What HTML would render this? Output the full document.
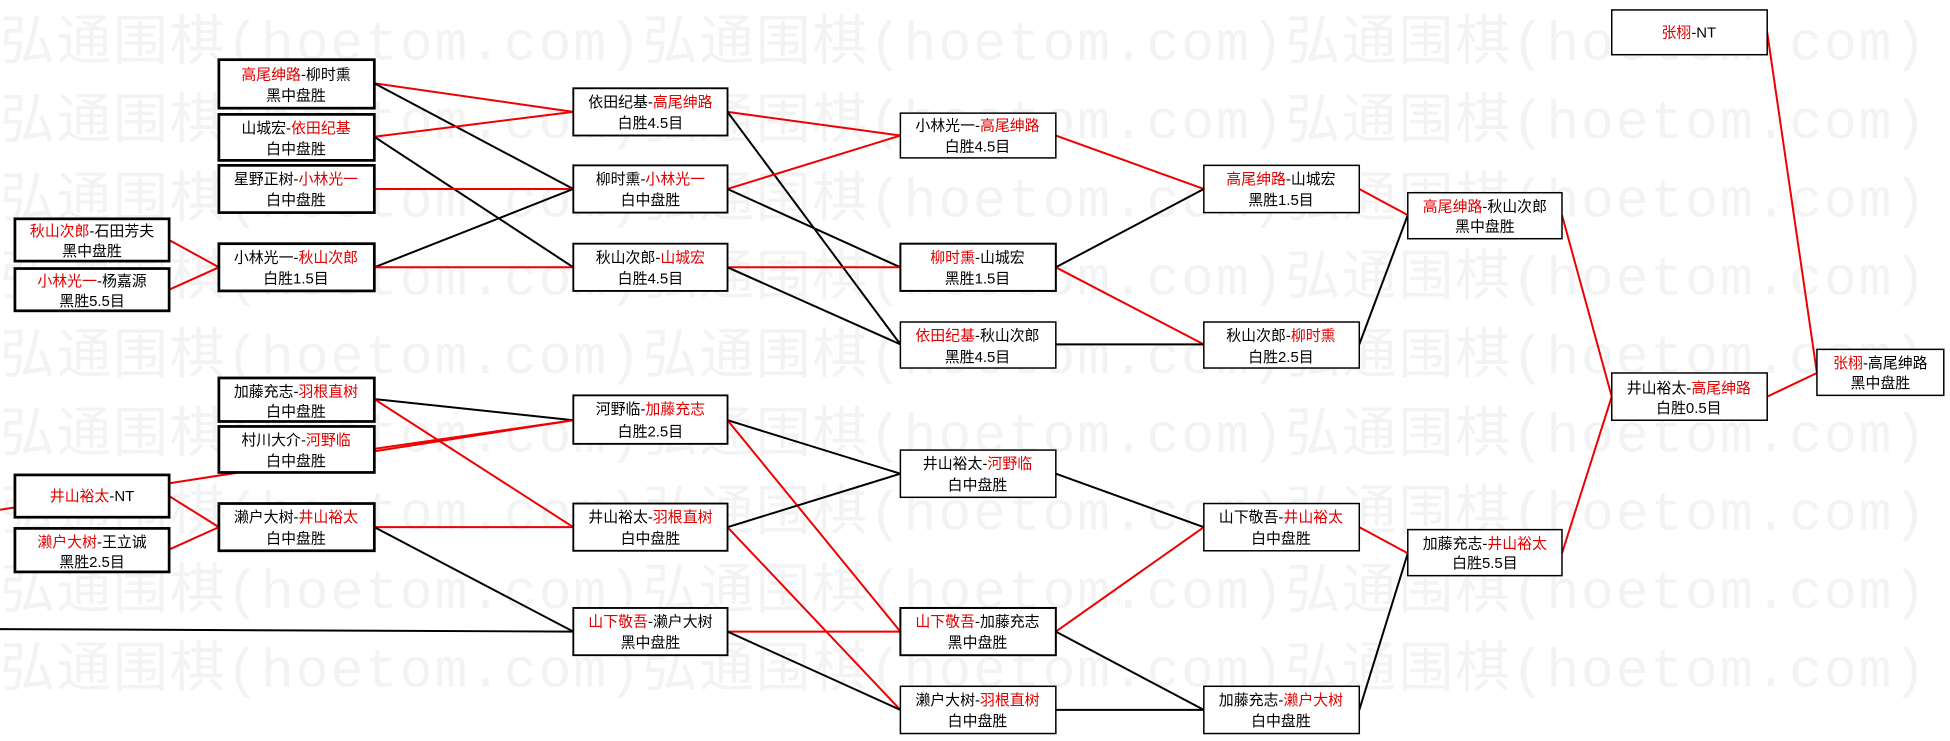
<!DOCTYPE html>
<html><head><meta charset="utf-8"><style>
html,body{margin:0;padding:0;background:#fff;}
svg{display:block;}
text{font-family:"Liberation Sans","Noto Sans CJK SC",sans-serif;font-size:12px;}
.w{font-size:44px;fill:#f3f3f3;font-family:"Liberation Mono","Noto Sans CJK SC",monospace;letter-spacing:1.5px;}
.r{fill:#e00000;}
</style></head><body>
<svg width="1950" height="741" viewBox="0 0 1568 596" preserveAspectRatio="none" xmlns="http://www.w3.org/2000/svg">
<g>
<text class="w" x="0" y="48">弘通围棋(hoetom.com)弘通围棋(hoetom.com)弘通围棋(hoetom.com)</text>
<text class="w" x="0" y="111">弘通围棋(hoetom.com)弘通围棋(hoetom.com)弘通围棋(hoetom.com)</text>
<text class="w" x="0" y="174">弘通围棋(hoetom.com)弘通围棋(hoetom.com)弘通围棋(hoetom.com)</text>
<text class="w" x="0" y="237">弘通围棋(hoetom.com)弘通围棋(hoetom.com)弘通围棋(hoetom.com)</text>
<text class="w" x="0" y="300">弘通围棋(hoetom.com)弘通围棋(hoetom.com)弘通围棋(hoetom.com)</text>
<text class="w" x="0" y="363">弘通围棋(hoetom.com)弘通围棋(hoetom.com)弘通围棋(hoetom.com)</text>
<text class="w" x="0" y="426">弘通围棋(hoetom.com)弘通围棋(hoetom.com)弘通围棋(hoetom.com)</text>
<text class="w" x="0" y="489">弘通围棋(hoetom.com)弘通围棋(hoetom.com)弘通围棋(hoetom.com)</text>
<text class="w" x="0" y="552">弘通围棋(hoetom.com)弘通围棋(hoetom.com)弘通围棋(hoetom.com)</text>
</g>
<g stroke-width="1.6" fill="none">
<line x1="136" y1="193" x2="176" y2="215" stroke="#e00"/>
<line x1="136" y1="233" x2="176" y2="215" stroke="#e00"/>
<line x1="136" y1="399" x2="176" y2="424" stroke="#e00"/>
<line x1="136" y1="442" x2="176" y2="424" stroke="#e00"/>
<line x1="0" y1="410" x2="461" y2="338" stroke="#e00"/>
<line x1="0" y1="506" x2="461" y2="508" stroke="#000"/>
<line x1="301" y1="67" x2="461" y2="90" stroke="#e00"/>
<line x1="301" y1="67" x2="461" y2="152" stroke="#000"/>
<line x1="301" y1="110" x2="461" y2="90" stroke="#e00"/>
<line x1="301" y1="110" x2="461" y2="215" stroke="#000"/>
<line x1="301" y1="152" x2="461" y2="152" stroke="#e00"/>
<line x1="301" y1="215" x2="461" y2="152" stroke="#000"/>
<line x1="301" y1="215" x2="461" y2="215" stroke="#e00"/>
<line x1="301" y1="321" x2="461" y2="338" stroke="#000"/>
<line x1="301" y1="321" x2="461" y2="424" stroke="#e00"/>
<line x1="301" y1="361" x2="461" y2="338" stroke="#e00"/>
<line x1="301" y1="424" x2="461" y2="424" stroke="#e00"/>
<line x1="301" y1="424" x2="461" y2="508" stroke="#000"/>
<line x1="585" y1="90" x2="724" y2="109" stroke="#e00"/>
<line x1="585" y1="90" x2="724" y2="277" stroke="#000"/>
<line x1="585" y1="152" x2="724" y2="109" stroke="#e00"/>
<line x1="585" y1="152" x2="724" y2="215" stroke="#000"/>
<line x1="585" y1="215" x2="724" y2="215" stroke="#e00"/>
<line x1="585" y1="215" x2="724" y2="277" stroke="#000"/>
<line x1="585" y1="338" x2="724" y2="381" stroke="#000"/>
<line x1="585" y1="338" x2="724" y2="508" stroke="#e00"/>
<line x1="585" y1="424" x2="724" y2="381" stroke="#000"/>
<line x1="585" y1="424" x2="724" y2="571" stroke="#e00"/>
<line x1="585" y1="508" x2="724" y2="508" stroke="#e00"/>
<line x1="585" y1="508" x2="724" y2="571" stroke="#000"/>
<line x1="849" y1="109" x2="968" y2="152" stroke="#e00"/>
<line x1="849" y1="215" x2="968" y2="152" stroke="#000"/>
<line x1="849" y1="215" x2="968" y2="277" stroke="#e00"/>
<line x1="849" y1="277" x2="968" y2="277" stroke="#000"/>
<line x1="849" y1="381" x2="968" y2="424" stroke="#000"/>
<line x1="849" y1="508" x2="968" y2="424" stroke="#e00"/>
<line x1="849" y1="508" x2="968" y2="571" stroke="#000"/>
<line x1="849" y1="571" x2="968" y2="571" stroke="#000"/>
<line x1="1093" y1="152" x2="1132" y2="173" stroke="#e00"/>
<line x1="1093" y1="277" x2="1132" y2="173" stroke="#000"/>
<line x1="1093" y1="424" x2="1132" y2="445" stroke="#e00"/>
<line x1="1093" y1="571" x2="1132" y2="445" stroke="#000"/>
<line x1="1256" y1="173" x2="1296" y2="319" stroke="#e00"/>
<line x1="1256" y1="445" x2="1296" y2="319" stroke="#e00"/>
<line x1="1421" y1="26" x2="1461" y2="300" stroke="#e00"/>
<line x1="1421" y1="319" x2="1461" y2="300" stroke="#e00"/>
</g>
<g fill="#fff" stroke="#000">
<g stroke-width="2.2">
<rect x="12" y="176" width="124" height="34"/><rect x="12" y="216" width="124" height="34"/>
<rect x="12" y="382" width="124" height="34"/><rect x="12" y="425" width="124" height="35"/>
<rect x="176" y="48" width="125" height="39"/><rect x="176" y="92" width="125" height="37"/>
<rect x="176" y="133" width="125" height="38"/><rect x="176" y="196" width="125" height="38"/>
<rect x="176" y="304" width="125" height="35"/><rect x="176" y="343" width="125" height="37"/>
<rect x="176" y="405" width="125" height="38"/>
</g>
<g stroke-width="1.5">
<rect x="461" y="71" width="124" height="38"/><rect x="461" y="133" width="124" height="38"/>
<rect x="461" y="196" width="124" height="38"/><rect x="461" y="318" width="124" height="39"/>
<rect x="461" y="405" width="124" height="38"/><rect x="461" y="489" width="124" height="38"/>
</g>
<g stroke-width="1.2">
<rect x="724" y="91" width="125" height="36"/><rect x="724" y="196" width="125" height="38" stroke-width="1.6"/>
<rect x="724" y="259" width="125" height="37"/><rect x="724" y="362" width="125" height="38"/>
<rect x="724" y="489" width="125" height="38" stroke-width="1.6"/><rect x="724" y="552" width="125" height="38"/>
<rect x="968" y="133" width="125" height="38"/><rect x="968" y="259" width="125" height="37"/>
<rect x="968" y="405" width="125" height="38"/><rect x="968" y="552" width="125" height="38"/>
<rect x="1132" y="155" width="124" height="37"/><rect x="1132" y="426" width="124" height="37"/>
<rect x="1296" y="8" width="125" height="36"/><rect x="1296" y="300" width="125" height="38"/>
<rect x="1461" y="281" width="102" height="37"/>
</g>
</g>
<g text-anchor="middle">
<text x="74" y="190"><tspan class="r">秋山次郎</tspan>-石田芳夫</text><text x="74" y="206">黑中盘胜</text>
<text x="74" y="230"><tspan class="r">小林光一</tspan>-杨嘉源</text><text x="74" y="246">黑胜5.5目</text>
<text x="74" y="403"><tspan class="r">井山裕太</tspan>-NT</text>
<text x="74" y="440"><tspan class="r">濑户大树</tspan>-王立诚</text><text x="74" y="456">黑胜2.5目</text>
<text x="238" y="64"><tspan class="r">高尾绅路</tspan>-柳时熏</text><text x="238" y="81">黑中盘胜</text>
<text x="238" y="107">山城宏-<tspan class="r">依田纪基</tspan></text><text x="238" y="124">白中盘胜</text>
<text x="238" y="148">星野正树-<tspan class="r">小林光一</tspan></text><text x="238" y="165">白中盘胜</text>
<text x="238" y="211">小林光一-<tspan class="r">秋山次郎</tspan></text><text x="238" y="228">白胜1.5目</text>
<text x="238" y="319">加藤充志-<tspan class="r">羽根直树</tspan></text><text x="238" y="335">白中盘胜</text>
<text x="238" y="358">村川大介-<tspan class="r">河野临</tspan></text><text x="238" y="375">白中盘胜</text>
<text x="238" y="420">濑户大树-<tspan class="r">井山裕太</tspan></text><text x="238" y="437">白中盘胜</text>
<text x="523" y="86">依田纪基-<tspan class="r">高尾绅路</tspan></text><text x="523" y="103">白胜4.5目</text>
<text x="523" y="148">柳时熏-<tspan class="r">小林光一</tspan></text><text x="523" y="165">白中盘胜</text>
<text x="523" y="211">秋山次郎-<tspan class="r">山城宏</tspan></text><text x="523" y="228">白胜4.5目</text>
<text x="523" y="333">河野临-<tspan class="r">加藤充志</tspan></text><text x="523" y="351">白胜2.5目</text>
<text x="523" y="420">井山裕太-<tspan class="r">羽根直树</tspan></text><text x="523" y="437">白中盘胜</text>
<text x="523" y="504"><tspan class="r">山下敬吾</tspan>-濑户大树</text><text x="523" y="521">黑中盘胜</text>
<text x="786" y="105">小林光一-<tspan class="r">高尾绅路</tspan></text><text x="786" y="122">白胜4.5目</text>
<text x="786" y="211"><tspan class="r">柳时熏</tspan>-山城宏</text><text x="786" y="228">黑胜1.5目</text>
<text x="786" y="274"><tspan class="r">依田纪基</tspan>-秋山次郎</text><text x="786" y="291">黑胜4.5目</text>
<text x="786" y="377">井山裕太-<tspan class="r">河野临</tspan></text><text x="786" y="394">白中盘胜</text>
<text x="786" y="504"><tspan class="r">山下敬吾</tspan>-加藤充志</text><text x="786" y="521">黑中盘胜</text>
<text x="786" y="567">濑户大树-<tspan class="r">羽根直树</tspan></text><text x="786" y="584">白中盘胜</text>
<text x="1030" y="148"><tspan class="r">高尾绅路</tspan>-山城宏</text><text x="1030" y="165">黑胜1.5目</text>
<text x="1030" y="274">秋山次郎-<tspan class="r">柳时熏</tspan></text><text x="1030" y="291">白胜2.5目</text>
<text x="1030" y="420">山下敬吾-<tspan class="r">井山裕太</tspan></text><text x="1030" y="437">白中盘胜</text>
<text x="1030" y="567">加藤充志-<tspan class="r">濑户大树</tspan></text><text x="1030" y="584">白中盘胜</text>
<text x="1194" y="170"><tspan class="r">高尾绅路</tspan>-秋山次郎</text><text x="1194" y="186">黑中盘胜</text>
<text x="1194" y="441">加藤充志-<tspan class="r">井山裕太</tspan></text><text x="1194" y="457">白胜5.5目</text>
<text x="1358" y="30"><tspan class="r">张栩</tspan>-NT</text>
<text x="1358" y="316">井山裕太-<tspan class="r">高尾绅路</tspan></text><text x="1358" y="332">白胜0.5目</text>
<text x="1512" y="296"><tspan class="r">张栩</tspan>-高尾绅路</text><text x="1512" y="312">黑中盘胜</text>
</g>
</svg>
</body></html>
